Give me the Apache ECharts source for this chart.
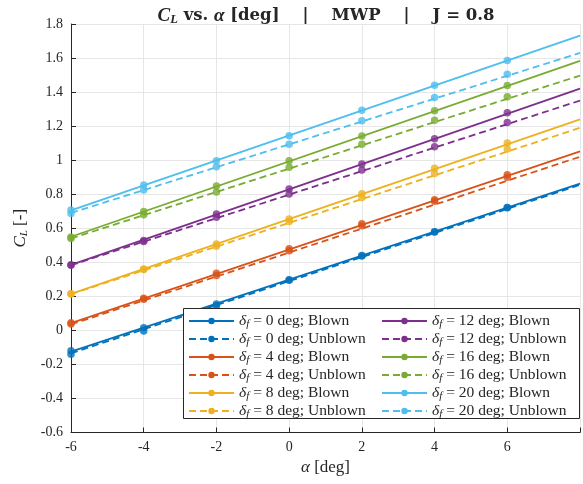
<!DOCTYPE html>
<html><head><meta charset="utf-8">
<script src="https://cdn.jsdelivr.net/npm/echarts@6/dist/echarts.min.js"></script>
<style>html,body{margin:0;padding:0;background:#fff}#c{width:583px;height:484px}</style>
</head><body><div id="c"></div>
<script>
// ---- data ----
const alphaPts = [-6, -4, -2, 0, 2, 4, 6];
const flapDeg = [0, 4, 8, 12, 16, 20];
const blown = [
  [-0.12, 0.015, 0.155, 0.297, 0.44, 0.58, 0.722],
  [0.045, 0.189, 0.336, 0.479, 0.626, 0.768, 0.914],
  [0.215, 0.36, 0.508, 0.655, 0.803, 0.952, 1.101],
  [0.385, 0.528, 0.683, 0.83, 0.978, 1.126, 1.278],
  [0.548, 0.699, 0.848, 0.997, 1.142, 1.291, 1.438],
  [0.707, 0.854, 0.997, 1.144, 1.293, 1.44, 1.585]
];
const unblown = [
  [-0.14, -0.003, 0.145, 0.295, 0.437, 0.578, 0.72],
  [0.038, 0.183, 0.322, 0.468, 0.614, 0.758, 0.899],
  [0.213, 0.357, 0.494, 0.64, 0.781, 0.922, 1.066],
  [0.383, 0.522, 0.664, 0.801, 0.942, 1.079, 1.222],
  [0.54, 0.679, 0.813, 0.958, 1.093, 1.234, 1.372],
  [0.687, 0.825, 0.962, 1.093, 1.232, 1.368, 1.505]
];
// fitted line values at alpha = -6 and alpha = 8
const fitAlpha = [-6, 8];
const blownFit = [[-0.125, 0.862], [0.042, 1.052], [0.215, 1.24], [0.385, 1.42], [0.55, 1.583], [0.705, 1.732]];
const unblownFit = [[-0.135, 0.855], [0.035, 1.02], [0.213, 1.19], [0.383, 1.35], [0.54, 1.497], [0.69, 1.63]];
const xTicks = [-6, -4, -2, 0, 2, 4, 6];
const yTicks = [-0.6, -0.4, -0.2, 0, 0.2, 0.4, 0.6, 0.8, 1, 1.2, 1.4, 1.6, 1.8];
const colors = ['#0072BD', '#D95319', '#EDB120', '#7E2F8E', '#77AC30', '#4DBEEE'];

// ---- chart ----
const FONT = '"Liberation Serif", "DejaVu Serif", serif';
const TFONT = '"DejaVu Serif", "Liberation Serif", serif';
const TXT = '#262626';
const series = [];
const legLeft = [], legRight = [];
flapDeg.forEach((d, i) => {
  [['Blown', blown[i], blownFit[i], 'solid'], ['Unblown', unblown[i], unblownFit[i], 'dashed']].forEach(([kind, pts, fit, ls]) => {
    const name = 'δ_f = ' + d + ' deg; ' + kind;
    (i < 3 ? legLeft : legRight).push(name);
    series.push({
      name: name, type: 'line', color: colors[i],
      symbol: 'circle', symbolSize: 7,
      lineStyle: {width: 1.8, type: ls === 'dashed' ? [7, 4] : 'solid'},
      data: fit.map((v, k) => ({value: [fitAlpha[k], v], symbol: 'none'})),
      z: 3, silent: true
    });
    series.push({
      name: name + ' pts', type: 'scatter', color: colors[i],
      symbol: 'circle', symbolSize: 7.5,
      data: pts.map((v, k) => [alphaPts[k], v]), z: 4, silent: true
    });
  });
});
const rich = {
  i: {fontFamily: FONT, fontStyle: 'italic', fontSize: 15.5, color: TXT},
  s: {fontFamily: FONT, fontStyle: 'italic', fontSize: 11, color: TXT, padding: [6, 0, 0, 0]}
};
const legendCommon = {
  orient: 'vertical', top: 313, padding: 0, itemWidth: 45, itemHeight: 8, itemGap: 1.5,
  textStyle: {fontFamily: FONT, fontSize: 15.5, lineHeight: 16, color: TXT, rich: rich},
  formatter: n => n.replace('δ_f', '{i|δ}{s|f}'), z: 20, selectedMode: false
};
const chart = echarts.init(document.getElementById('c'));
chart.setOption({
  animation: false,
  title: {
    text: '{i|C}{s|L}{b| vs. }{i|α}{b| [deg]    |    MWP    |    J = 0.8}',
    left: 321, textAlign: 'center', top: 1,
    textStyle: {rich: {
      b: {fontFamily: TFONT, fontWeight: 'bold', fontSize: 16.5, color: TXT},
      i: {fontFamily: FONT, fontStyle: 'italic', fontSize: 19, color: TXT},
      s: {fontFamily: FONT, fontStyle: 'italic', fontSize: 12.5, color: TXT, padding: [7, 0, 0, 0]}
    }}
  },
  grid: {left: 71, right: -2, top: 24, bottom: 51.5},
  xAxis: {
    type: 'value', min: -6, max: 8, interval: 2,
    name: '{i|α} [deg]', nameLocation: 'middle', nameGap: 27,
    nameTextStyle: {fontFamily: FONT, fontSize: 17, color: TXT, rich: {i: {fontFamily: FONT, fontStyle: 'italic', fontSize: 17, color: TXT}}},
    axisLine: {onZero: false, lineStyle: {color: TXT, width: 1}},
    axisTick: {inside: true, length: 5, lineStyle: {color: TXT}},
    axisLabel: {fontFamily: FONT, fontSize: 14, color: TXT, margin: 8,
      formatter: v => xTicks.includes(v) ? String(v) : ''},
    splitLine: {show: true, lineStyle: {color: '#e6e6e6', width: 1}}
  },
  yAxis: {
    type: 'value', min: -0.6, max: 1.8, interval: 0.2,
    name: '{i|C}{s|L} [-]', nameLocation: 'middle', nameGap: 38, nameRotate: 90,
    nameTextStyle: {fontFamily: FONT, fontSize: 17, color: TXT, rich: {
      i: {fontFamily: FONT, fontStyle: 'italic', fontSize: 17, color: TXT},
      s: {fontFamily: FONT, fontStyle: 'italic', fontSize: 11, color: TXT, padding: [7, 0, 0, 0]}}},
    axisLine: {show: true, onZero: false, lineStyle: {color: TXT, width: 1}},
    axisTick: {show: true, inside: true, length: 5, lineStyle: {color: TXT}},
    axisLabel: {fontFamily: FONT, fontSize: 14, color: TXT, margin: 8,
      formatter: v => { const t = yTicks.find(y => Math.abs(y - v) < 1e-9); return t === undefined ? '' : String(t); }},
    splitLine: {show: true, lineStyle: {color: '#e6e6e6', width: 1}}
  },
  legend: [
    Object.assign({left: 188, data: legLeft}, legendCommon),
    Object.assign({left: 381, data: legRight}, legendCommon)
  ],
  graphic: [{type: 'rect', shape: {x: 183.5, y: 308.5, width: 396, height: 110},
    style: {fill: '#fff', stroke: '#262626', lineWidth: 1}, z: 10}],
  series: series
});
</script></body></html>
